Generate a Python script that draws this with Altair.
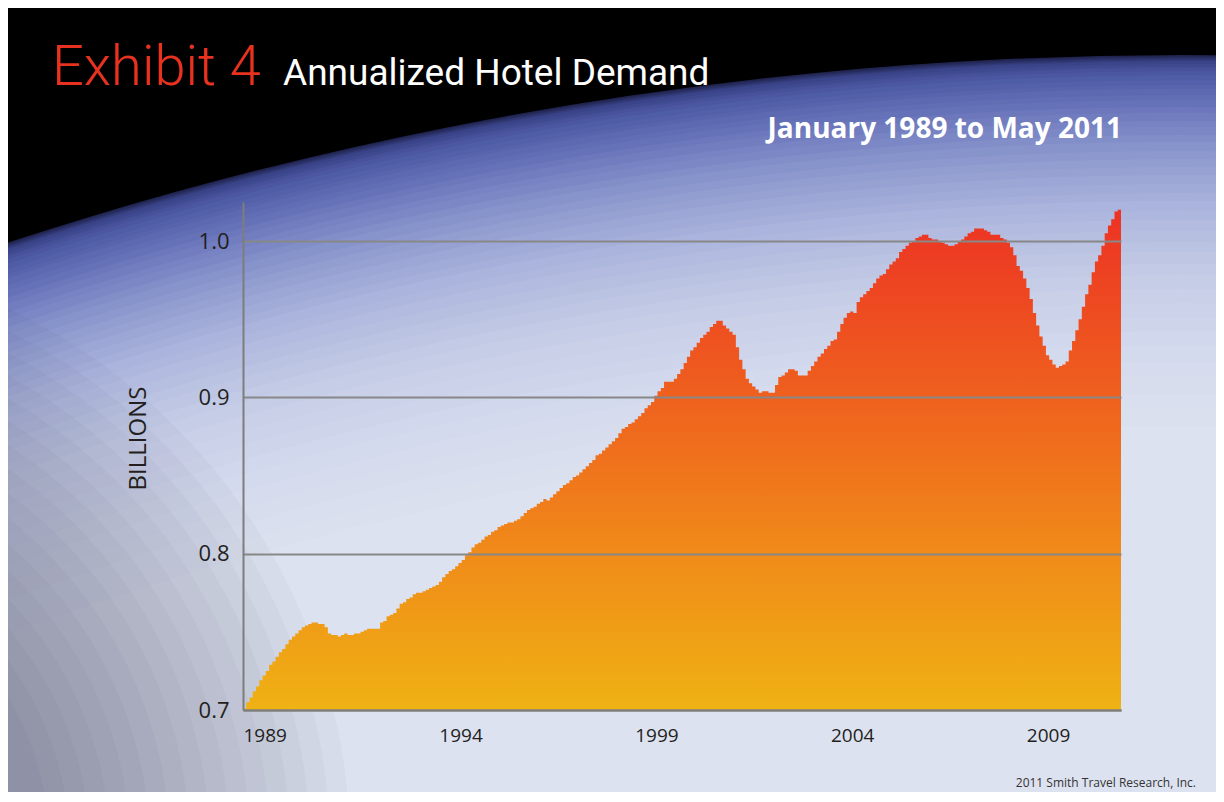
import altair as alt
import pandas as pd

# Annualized hotel demand (billions), monthly Jan 1989 - May 2011
v1989 = [0.701, 0.705, 0.708, 0.712, 0.715, 0.719, 0.722, 0.725, 0.729, 0.731, 0.734, 0.737]
v1990 = [0.739, 0.742, 0.745, 0.747, 0.749, 0.751, 0.753, 0.754, 0.755, 0.756, 0.756, 0.755]
v1991 = [0.755, 0.753, 0.749, 0.748, 0.748, 0.747, 0.748, 0.749, 0.748, 0.748, 0.749, 0.749]
v1992 = [0.750, 0.751, 0.752, 0.752, 0.752, 0.752, 0.756, 0.757, 0.760, 0.761, 0.762, 0.765]
v1993 = [0.768, 0.769, 0.771, 0.772, 0.774, 0.775, 0.775, 0.776, 0.777, 0.778, 0.779, 0.780]
v1994 = [0.782, 0.785, 0.787, 0.789, 0.790, 0.792, 0.794, 0.796, 0.799, 0.801, 0.804, 0.806]
v1995 = [0.807, 0.809, 0.811, 0.812, 0.814, 0.815, 0.817, 0.818, 0.819, 0.820, 0.820, 0.821]
v1996 = [0.822, 0.824, 0.826, 0.828, 0.829, 0.830, 0.832, 0.833, 0.835, 0.834, 0.836, 0.838]
v1997 = [0.840, 0.842, 0.844, 0.845, 0.847, 0.849, 0.850, 0.852, 0.854, 0.856, 0.858, 0.860]
v1998 = [0.863, 0.864, 0.866, 0.868, 0.870, 0.872, 0.874, 0.877, 0.880, 0.881, 0.883, 0.884]
v1999 = [0.886, 0.888, 0.890, 0.893, 0.895, 0.897, 0.901, 0.904, 0.906, 0.910, 0.910, 0.910]
v2000 = [0.912, 0.915, 0.918, 0.922, 0.926, 0.930, 0.932, 0.935, 0.938, 0.940, 0.942, 0.945]
v2001 = [0.947, 0.949, 0.949, 0.946, 0.944, 0.942, 0.940, 0.932, 0.924, 0.918, 0.912, 0.909]
v2002 = [0.907, 0.905, 0.903, 0.904, 0.904, 0.903, 0.903, 0.908, 0.913, 0.914, 0.916, 0.918]
v2003 = [0.918, 0.917, 0.914, 0.914, 0.914, 0.917, 0.920, 0.923, 0.926, 0.928, 0.931, 0.933]
v2004 = [0.936, 0.937, 0.942, 0.947, 0.951, 0.954, 0.955, 0.954, 0.961, 0.964, 0.966, 0.968]
v2005 = [0.970, 0.973, 0.976, 0.978, 0.979, 0.982, 0.985, 0.987, 0.989, 0.993, 0.995, 0.997]
v2006 = [0.999, 1.000, 1.002, 1.003, 1.004, 1.004, 1.002, 1.001, 1.001, 1.000, 0.999, 0.998]
v2007 = [0.997, 0.997, 0.998, 1.000, 1.001, 1.003, 1.005, 1.006, 1.008, 1.008, 1.008, 1.007]
v2008 = [1.006, 1.004, 1.004, 1.004, 1.002, 1.001, 0.999, 0.996, 0.991, 0.984, 0.981, 0.976]
v2009 = [0.970, 0.963, 0.954, 0.946, 0.939, 0.933, 0.927, 0.924, 0.921, 0.919, 0.920, 0.921]
v2010 = [0.923, 0.930, 0.936, 0.943, 0.950, 0.958, 0.966, 0.972, 0.980, 0.987, 0.991, 0.997]
v2011 = [1.005, 1.010, 1.014, 1.019, 1.020]

tick_months = [0, 60, 120, 180, 240]
tick_labels = ["1989", "1994", "1999", "2004", "2009"]
y_ticks = [0.7, 0.8, 0.9, 1.0]

monthly = (v1989 + v1990 + v1991 + v1992 + v1993 + v1994 + v1995 + v1996 + v1997 + v1998
           + v1999 + v2000 + v2001 + v2002 + v2003 + v2004 + v2005 + v2006 + v2007 + v2008
           + v2009 + v2010 + v2011)
n = len(monthly)
df = pd.DataFrame({"m": list(range(n)) + [n], "v": monthly + [monthly[-1]]})

one = alt.Data(values=[{"k": 0}])

label_map = "{" + ",".join(f"'{m}':'{l}'" for m, l in zip(tick_months, tick_labels)) + "}"


# --- decorative background (earth-like glow), purely styling ---
def hex2rgb(h):
    h = h.lstrip("#")
    return [int(h[i:i + 2], 16) for i in (0, 2, 4)]


def mix(c1, c2, t):
    a, b = hex2rgb(c1), hex2rgb(c2)
    return "#" + "".join(f"{round(a[i] + (b[i] - a[i]) * t):02x}" for i in range(3))


glow_stops = [(0, "#20244e"), (6, "#3a4489"), (20, "#4f5ca6"), (45, "#6672b8"),
              (80, "#828ec8"), (120, "#9ca7d6"), (165, "#b3bce0"), (220, "#c6cde7"),
              (290, "#d4daed"), (370, "#dde2f0")]
ring_list = []
for (o1, c1), (o2, c2) in zip(glow_stops[:-1], glow_stops[1:]):
    steps = 5
    for s in range(steps):
        t = s / steps
        ring_list.append((o1 + (o2 - o1) * t, mix(c1, c2, t)))
ring_list.append(glow_stops[-1])

CX, CY, R = 939, 3620, 3767
bg_layers = []
for off, col in ring_list:
    r = R - off
    bg_layers.append(
        alt.Chart(one).mark_point(shape="circle", filled=True, opacity=1, color=col,
                                  size=4 * r * r, strokeWidth=0)
        .encode(x=alt.value(CX), y=alt.value(CY))
    )
for rad in range(600, 280, -20):
    bg_layers.append(
        alt.Chart(one).mark_point(shape="circle", filled=True, opacity=0.035, color="#34334f",
                                  size=4 * rad * rad, strokeWidth=0)
        .encode(x=alt.value(-493), y=alt.value(648))
    )

grad = alt.Gradient(
    gradient="linear",
    stops=[
        alt.GradientStop(color="#ec3224", offset=0),
        alt.GradientStop(color="#ef601e", offset=0.37),
        alt.GradientStop(color="#f08b19", offset=0.69),
        alt.GradientStop(color="#efb213", offset=1),
    ],
    x1=0, x2=0, y1=0, y2=1,
)

area = alt.Chart(df).mark_area(interpolate="step-after", color=grad).encode(
    x=alt.X("m:Q", scale=alt.Scale(domain=[0, n], nice=False),
            axis=alt.Axis(values=tick_months, labelExpr=label_map + "[datum.value]",
                          title="", ticks=False, grid=False, labelAlign="left",
                          labelBaseline="top", labelPadding=16, labelFlush=False,
                          labelFontSize=19, labelFont="Open Sans", labelColor="#231f20",
                          domainColor="#7d7d7d", domainWidth=2, zindex=1)),
    y=alt.Y("v:Q", scale=alt.Scale(domain=[0.7, 1.025], nice=False, zero=False),
            axis=alt.Axis(values=y_ticks, format=".1f", title="BILLIONS", ticks=False,
                          domainColor="#7d7d7d", domainWidth=2, gridColor="#888888",
                          gridWidth=2, labelFontSize=22, labelFont="Open Sans",
                          labelColor="#231f20", labelPadding=14, titleFontSize=24,
                          titleFontWeight="normal", titleFont="Open Sans",
                          titleColor="#231f20", titleX=-105, titleY=236,
                          titleAlign="center", titleBaseline="middle", zindex=1)),
    y2=alt.datum(0.7),
)


def txt(text, x, y, size, color, font, weight="normal", align="left"):
    return alt.Chart(one).mark_text(
        text=text, align=align, baseline="alphabetic", fontSize=size, color=color,
        font=font, fontWeight=weight
    ).encode(x=alt.value(x), y=alt.value(y))


texts = [
    txt("Exhibit 4", -191, -117, 56, "#e8321f", "Roboto", 300),
    txt("Annualized Hotel Demand", 40, -117, 37, "#ffffff", "Roboto", 400),
    txt("January 1989 to May 2011", 879, -64, 28, "#ffffff", "Open Sans", "bold", "right"),
    txt("2011 Smith Travel Research, Inc.", 953, 585, 12, "#333333", "Open Sans", "normal", "right"),
]

chart = alt.layer(*bg_layers, area, *texts).properties(
    width=878, height=508,
    padding={"left": 235, "top": 194, "right": 95, "bottom": 82},
    autosize=alt.AutoSizeParams(type="none"),
    background="#000000",
).configure_view(strokeWidth=0)

chart.save("out.html", embed_options={"renderer": "svg", "actions": False})
